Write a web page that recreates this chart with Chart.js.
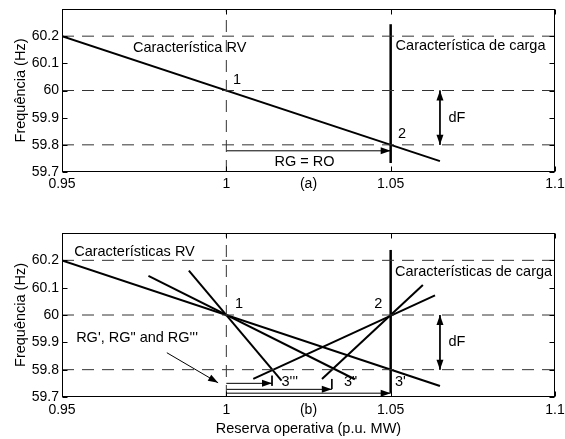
<!DOCTYPE html>
<html>
<head>
<meta charset="utf-8">
<script src="https://cdn.jsdelivr.net/npm/chart.js@4"></script>
<style>
  body { margin: 0; background: #fff; }
  #wrap { position: relative; width: 565px; height: 439px; }
  canvas { position: absolute; left: 0; }
</style>
</head>
<body>
<div id="wrap">
  <canvas id="chartA" width="565" height="220" style="top:0"></canvas>
  <canvas id="chartB" width="565" height="219" style="top:220px"></canvas>
</div>
<script>
// axes
const xTicks = [0.95, 1, 1.05, 1.1];
const yTicks = [59.7, 59.8, 59.9, 60, 60.1, 60.2];
const xRange = [0.95, 1.1];
const yRange = [59.7, 60.3];
const dashYs = [60.2, 60, 59.8];
const dashX = 1;

// (a)
const rvX = [0.95, 1.065];
const rvY = [60.2, 59.74];
const loadAX = [1.05, 1.05];
const loadAY = [59.733, 60.244];
const rgX = [1, 1.05];
const rgY = [59.778, 59.778];
const dfX = [1.065, 1.065];
const dfY = [60, 59.8];

// (b)
const rv2X = [0.9763, 1.0391];
const rv2Y = [60.143, 59.765];
const rv3X = [0.9886, 1.0168];
const rv3Y = [60.162, 59.76];
const loadBX = [1.05, 1.05];
const loadBY = [59.715, 60.238];
const load2X = [1.0291, 1.0598];
const load2Y = [59.766, 60.11];
const load3X = [1.0082, 1.0635];
const load3Y = [59.766, 60.072];
const rg1X = [1, 1.05];
const rg1Y = [59.714, 59.714];
const rg2X = [1, 1.0321];
const rg2Y = [59.728, 59.728];
const rg3X = [1, 1.0139];
const rg3Y = [59.75, 59.75];
const drop2X = [1.0321, 1.0321];
const drop2Y = [59.766, 59.729];
const drop3X = [1.0139, 1.0139];
const drop3Y = [59.778, 59.741];
const pointerX = [0.9819, 0.9975];
const pointerY = [59.862, 59.752];

const FONT = '"Liberation Sans", Arial, sans-serif';

function pts(xs, ys) {
  return xs.map((x, i) => ({ x: x, y: ys[i] }));
}

function line(xs, ys, width, extra) {
  return Object.assign({
    data: pts(xs, ys),
    showLine: true,
    borderColor: '#000',
    borderWidth: width,
    pointRadius: 0,
    fill: false
  }, extra || {});
}

function dashed() {
  const list = dashYs.map(y => line(xRange, [y, y], 1, { borderColor: '#333', borderDash: [12, 8] }));
  list.push(line([dashX, dashX], yRange, 1, { borderColor: '#333', borderDash: [12, 8] }));
  return list;
}

const arrows = {
  id: 'arrows',
  afterDatasetsDraw(chart) {
    const ctx = chart.ctx;
    const head = (a, b) => {
      const ang = Math.atan2(b.y - a.y, b.x - a.x);
      ctx.save();
      ctx.translate(b.x, b.y);
      ctx.rotate(ang);
      ctx.beginPath();
      ctx.moveTo(0, 0);
      ctx.lineTo(-10, -3.5);
      ctx.lineTo(-10, 3.5);
      ctx.closePath();
      ctx.fillStyle = '#000';
      ctx.fill();
      ctx.restore();
    };
    chart.data.datasets.forEach((ds, i) => {
      const p = chart.getDatasetMeta(i).data;
      if (ds.arrowEnd) head(p[p.length - 2], p[p.length - 1]);
      if (ds.arrowStart) head(p[1], p[0]);
    });
  }
};

// box with inward ticks
const frame = {
  id: 'frame',
  afterDraw(chart) {
    const ctx = chart.ctx;
    const a = chart.chartArea;
    const xs = chart.scales.x, ys = chart.scales.y;
    ctx.save();
    ctx.strokeStyle = '#000';
    ctx.lineWidth = 1;
    ctx.beginPath();
    const L = Math.round(a.left) + 0.5, R = Math.round(a.right) - 0.5;
    const T = Math.round(a.top) + 0.5, B = Math.round(a.bottom) - 0.5;
    ctx.strokeRect(L, T, R - L, B - T);
    xTicks.forEach(v => {
      const px = Math.round(xs.getPixelForValue(v)) + 0.5;
      ctx.moveTo(px, B); ctx.lineTo(px, B - 5);
      ctx.moveTo(px, T); ctx.lineTo(px, T + 5);
    });
    yTicks.forEach(v => {
      const py = Math.round(ys.getPixelForValue(v)) + 0.5;
      ctx.moveTo(L, py); ctx.lineTo(L + 5, py);
      ctx.moveTo(R, py); ctx.lineTo(R - 5, py);
    });
    ctx.stroke();
    ctx.restore();
  }
};

function notes(list) {
  return {
    id: 'notes',
    afterDatasetsDraw(chart) {
      const ctx = chart.ctx;
      ctx.save();
      ctx.font = '14.5px ' + FONT;
      ctx.fillStyle = '#000';
      ctx.textBaseline = 'middle';
      list.forEach(n => {
        ctx.textAlign = n.align || 'left';
        ctx.fillText(n.text, chart.scales.x.getPixelForValue(n.x), chart.scales.y.getPixelForValue(n.y));
      });
      ctx.restore();
    }
  };
}

function options(panel, padTop, axisH, withTitle) {
  return {
    responsive: false,
    animation: false,
    events: [],
    layout: { padding: { left: 0, right: 10, top: padTop, bottom: 0 } },
    plugins: { legend: { display: false }, tooltip: { enabled: false } },
    scales: {
      x: {
        type: 'linear',
        min: xRange[0], max: xRange[1],
        grid: { display: false, drawTicks: false },
        border: { display: false },
        afterBuildTicks: s => { s.ticks = xTicks.concat([1.025]).map(v => ({ value: v })); },
        afterFit: s => { s.height = axisH; s.paddingLeft = 0; s.paddingRight = 0; },
        ticks: {
          padding: withTitle ? 5 : 4,
          color: '#000',
          maxRotation: 0,
          autoSkip: false,
          font: { family: FONT, size: 14 },
          callback: v => (v === 1.025 ? panel : String(v))
        },
        title: {
          display: withTitle,
          text: 'Reserva operativa (p.u. MW)',
          color: '#000',
          font: { family: FONT, size: 14.5 },
          padding: { top: 0, bottom: 1.5 }
        }
      },
      y: {
        type: 'linear',
        min: yRange[0], max: yRange[1],
        grid: { display: false, drawTicks: false },
        border: { display: false },
        afterBuildTicks: s => { s.ticks = yTicks.map(v => ({ value: v })); },
        afterFit: s => { s.width = 62; s.paddingTop = 0; s.paddingBottom = 0; },
        ticks: {
          padding: 3,
          color: '#000',
          font: { family: FONT, size: 14 },
          callback: v => String(v)
        },
        title: {
          display: true,
          text: 'Frequência (Hz)',
          color: '#000',
          font: { family: FONT, size: 14.5 },
          padding: { top: 12, bottom: 0 }
        }
      }
    }
  };
}

const notesA = [
  { text: 'Característica RV', x: 0.9716, y: 60.158 },
  { text: '1', x: 1.002, y: 60.039 },
  { text: '2', x: 1.0522, y: 59.841 },
  { text: 'Característica de carga', x: 1.0515, y: 60.164 },
  { text: 'RG = RO', x: 1.0238, y: 59.738, align: 'center' },
  { text: 'dF', x: 1.0676, y: 59.9 }
];

const notesB = [
  { text: 'Características RV', x: 0.9537, y: 60.232 },
  { text: '1', x: 1.0026, y: 60.039 },
  { text: '2', x: 1.045, y: 60.04 },
  { text: 'Características de carga', x: 1.0513, y: 60.159 },
  { text: 'RG\', RG" and RG\'\'\'', x: 0.9543, y: 59.916 },
  { text: '3\'\'\'', x: 1.0168, y: 59.756 },
  { text: '3"', x: 1.0358, y: 59.756 },
  { text: '3\'', x: 1.0513, y: 59.756 },
  { text: 'dF', x: 1.0676, y: 59.9 }
];

new Chart(document.getElementById('chartA'), {
  type: 'scatter',
  data: {
    datasets: dashed().concat([
      line(rvX, rvY, 2),
      line(loadAX, loadAY, 2.5),
      line(rgX, rgY, 1, { arrowEnd: true }),
      line(dfX, dfY, 1, { arrowEnd: true, arrowStart: true })
    ])
  },
  options: options('(a)', 9, 48, false),
  plugins: [arrows, frame, notes(notesA)]
});

new Chart(document.getElementById('chartB'), {
  type: 'scatter',
  data: {
    datasets: dashed().concat([
      line(rvX, rvY, 2),
      line(rv2X, rv2Y, 2),
      line(rv3X, rv3Y, 2),
      line(loadBX, loadBY, 2.5),
      line(load2X, load2Y, 2),
      line(load3X, load3Y, 2),
      line(rg1X, rg1Y, 1, { arrowEnd: true }),
      line(rg2X, rg2Y, 1, { arrowEnd: true }),
      line(rg3X, rg3Y, 1, { arrowEnd: true }),
      line(drop2X, drop2Y, 1),
      line(drop3X, drop3Y, 1),
      line(pointerX, pointerY, 1, { arrowEnd: true }),
      line(dfX, dfY, 1, { arrowEnd: true, arrowStart: true })
    ])
  },
  options: options('(b)', 13, 42, true),
  plugins: [arrows, frame, notes(notesB)]
});
</script>
</body>
</html>
